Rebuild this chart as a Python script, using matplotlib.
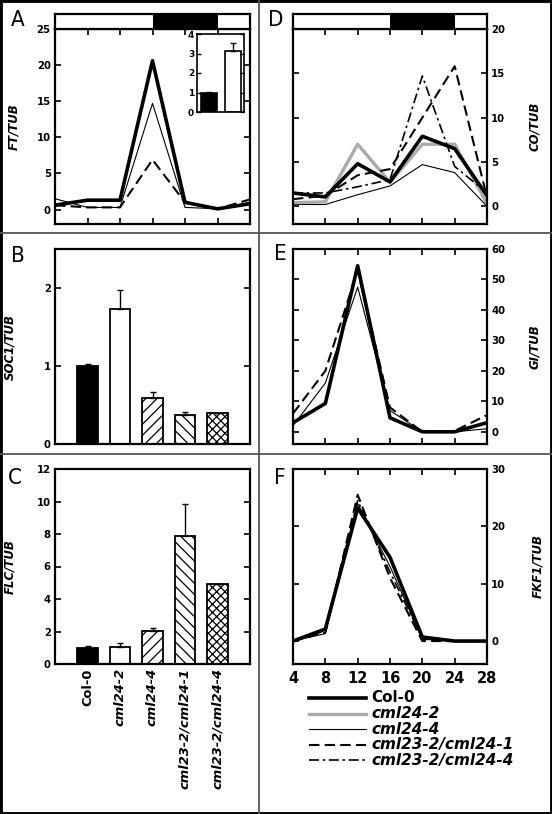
import matplotlib
matplotlib.use("Agg")
import matplotlib.pyplot as plt
from matplotlib.lines import Line2D
from matplotlib.patches import Rectangle

W, H = 552, 814

# ---- data -----------------------------------------------------------------
hours = [4, 8, 12, 16, 20, 24, 28]

ft_col0 = [0.6, 1.3, 1.3, 20.6, 1.0, 0.1, 0.8]
ft_cml24_4 = [1.5, 0.3, 0.3, 14.7, 0.3, 0.1, 1.0]
ft_dbl1 = [0.6, 0.3, 0.3, 6.9, 1.0, 0.1, 1.4]

ft_inset = [1.0, 3.13]
ft_inset_err = [0.03, 0.42]

co_col0 = [1.5, 1.05, 4.8, 2.75, 7.9, 6.5, 1.2]
co_cml24_2 = [0.4, 0.5, 7.0, 2.7, 7.0, 7.0, 0.3]
co_cml24_4 = [0.2, 0.2, 1.3, 2.3, 4.7, 3.8, 0.0]
co_dbl1 = [0.8, 1.2, 3.5, 4.2, 10.0, 15.8, 1.0]
co_dbl4 = [1.5, 1.5, 2.2, 3.0, 14.7, 4.5, 1.5]

gi_col0 = [3.0, 9.3, 54.5, 4.6, 0.0, 0.0, 3.0]
gi_cml24_4 = [2.0, 16.0, 47.5, 7.0, 0.0, 0.0, 1.0]
gi_dbl1 = [6.0, 20.0, 53.0, 8.0, 0.0, 0.3, 5.5]

fkf_col0 = [0.0, 2.1, 23.2, 14.6, 0.7, 0.0, 0.0]
fkf_cml24_4 = [0.0, 1.3, 24.0, 13.0, 0.3, 0.0, 0.0]
fkf_dbl1 = [0.0, 1.5, 25.5, 11.0, 0.0, 0.0, 0.0]
fkf_dbl4 = [0.0, 1.8, 24.5, 12.0, 0.5, 0.0, 0.0]

genotypes = ["Col-0", "cml24-2", "cml24-4", "cml23-2/cml24-1", "cml23-2/cml24-4"]
soc1 = [1.0, 1.73, 0.59, 0.37, 0.40]
soc1_err = [0.02, 0.25, 0.08, 0.04, 0.0]
flc = [1.0, 1.02, 2.05, 7.9, 4.92]
flc_err = [0.1, 0.3, 0.15, 1.95, 0.0]

light = [(4, 16, "white"), (16, 24, "black"), (24, 28, "white")]

# ---- styles ---------------------------------------------------------------
STY = {
    "Col-0": dict(color="black", lw=2.6),
    "cml24-2": dict(color="#aaaaaa", lw=2.4),
    "cml24-4": dict(color="black", lw=0.8),
    "cml23-2/cml24-1": dict(color="black", lw=1.5, dashes=(5, 2.5)),
    "cml23-2/cml24-4": dict(color="black", lw=1.2, dashes=(6, 2.2, 1.5, 2.2)),
}
bar_face = ["black", "white", "white", "white", "white"]
bar_hatch = [None, None, "///", "\\\\\\", "xxxx"]

plt.rcParams["font.family"] = "DejaVu Sans"
plt.rcParams["font.weight"] = "bold"
plt.rcParams["hatch.linewidth"] = 0.9

fig = plt.figure(figsize=(W / 100, H / 100), dpi=100)


def fr(x0, y0, x1, y1):
    return [x0 / W, 1 - y1 / H, (x1 - x0) / W, (y1 - y0) / H]


def style(ax, right=False, xlabels=False):
    for s in ax.spines.values():
        s.set_linewidth(1.6)
    ax.tick_params(direction="in", length=4, width=1.2, top=True, right=True,
                   left=True, bottom=True, labelsize=7.3,
                   labelleft=not right, labelright=right,
                   labelbottom=xlabels, pad=3)


def lightbar(rect):
    b = fig.add_axes(rect)
    for a, z, c in light:
        b.barh(0.5, z - a, left=a, height=1, color=c, edgecolor="none")
    b.set_xlim(4, 28)
    b.set_ylim(0, 1)
    b.set_xticks([])
    b.set_yticks([])
    for s in b.spines.values():
        s.set_linewidth(1.6)


def ylab(ax, text, right=False):
    ax.set_ylabel(text, fontsize=8.5, fontstyle="italic", fontweight="bold")
    if right:
        ax.yaxis.set_label_position("right")


# ---- A ------------------------------------------------------------------
axA = fig.add_axes(fr(55, 29, 250, 224))
axA.plot(hours, ft_cml24_4, **STY["cml24-4"])
axA.plot(hours, ft_dbl1, **STY["cml23-2/cml24-1"])
axA.plot(hours, ft_col0, **STY["Col-0"])
axA.set_xlim(4, 28)
axA.set_ylim(-2, 25)
axA.set_xticks(hours)
axA.set_yticks(range(0, 26, 5))
style(axA)
ylab(axA, "FT/TUB")
axA.yaxis.set_label_coords(-0.18, 0.5)
lightbar(fr(55, 14, 250, 29))

ins = fig.add_axes(fr(197, 34, 244, 112))
ins.bar([1, 2], ft_inset, width=0.66, color=["black", "white"],
        edgecolor="black", lw=1.2)
ins.errorbar([1, 2], ft_inset, yerr=[[0, 0], ft_inset_err], fmt="none",
             ecolor="black", elinewidth=1, capsize=2)
ins.set_xlim(0.5, 2.46)
ins.set_ylim(0, 4)
ins.set_xticks([])
ins.set_yticks(range(5))
for s in ins.spines.values():
    s.set_linewidth(1.2)
ins.tick_params(direction="in", length=3, width=1, right=True, labelsize=6.5, pad=2)

# ---- D ------------------------------------------------------------------
axD = fig.add_axes(fr(293, 29, 487, 224))
axD.plot(hours, co_cml24_4, **STY["cml24-4"])
axD.plot(hours, co_cml24_2, **STY["cml24-2"])
axD.plot(hours, co_dbl1, **STY["cml23-2/cml24-1"])
axD.plot(hours, co_dbl4, **STY["cml23-2/cml24-4"])
axD.plot(hours, co_col0, **STY["Col-0"])
axD.set_xlim(4, 28)
axD.set_ylim(-2, 20)
axD.set_xticks(hours)
axD.set_yticks(range(0, 21, 5))
style(axD, right=True)
ylab(axD, "CO/TUB", right=True)
axD.yaxis.set_label_coords(1.21, 0.5)
lightbar(fr(293, 14, 487, 29))

# ---- B / C bars ---------------------------------------------------------
pos = list(range(1, len(genotypes) + 1))


def bars(ax, vals, errs):
    for p, v, fc, h in zip(pos, vals, bar_face, bar_hatch):
        ax.bar(p, v, width=0.62, color=fc, edgecolor="black", lw=1.3, hatch=h)
    ax.errorbar(pos, vals, yerr=[[0] * len(vals), errs], fmt="none",
                ecolor="black", elinewidth=1, capsize=2.5)
    ax.set_xlim(0, 6)


axB = fig.add_axes(fr(55, 249, 250, 444))
bars(axB, soc1, soc1_err)
axB.set_ylim(0, 2.5)
axB.set_yticks([0, 1, 2])
style(axB)
axB.tick_params(top=False, bottom=False)
axB.set_xticks([])
ylab(axB, "SOC1/TUB")
axB.yaxis.set_label_coords(-0.2, 0.5)

axC = fig.add_axes(fr(55, 469, 250, 664))
bars(axC, flc, flc_err)
axC.set_ylim(0, 12)
axC.set_yticks(range(0, 13, 2))
style(axC, xlabels=True)
axC.tick_params(top=False, bottom=False)
axC.set_xticks(pos)
axC.set_xticklabels(genotypes, rotation=90, fontsize=9.4, fontweight="bold")
for t in axC.get_xticklabels()[1:]:
    t.set_fontstyle("italic")
ylab(axC, "FLC/TUB")
axC.yaxis.set_label_coords(-0.2, 0.5)

# ---- E ------------------------------------------------------------------
axE = fig.add_axes(fr(293, 249, 487, 444))
axE.plot(hours, gi_cml24_4, **STY["cml24-4"])
axE.plot(hours, gi_dbl1, **STY["cml23-2/cml24-1"])
axE.plot(hours, gi_col0, **STY["Col-0"])
axE.set_xlim(4, 28)
axE.set_ylim(-4, 60)
axE.set_xticks(hours)
axE.set_yticks(range(0, 61, 10))
style(axE, right=True)
ylab(axE, "GI/TUB", right=True)
axE.yaxis.set_label_coords(1.21, 0.5)

# ---- F ------------------------------------------------------------------
axF = fig.add_axes(fr(293, 469, 487, 664))
axF.plot(hours, fkf_cml24_4, **STY["cml24-4"])
axF.plot(hours, fkf_dbl1, **STY["cml23-2/cml24-1"])
axF.plot(hours, fkf_dbl4, **STY["cml23-2/cml24-4"])
axF.plot(hours, fkf_col0, **STY["Col-0"])
axF.set_xlim(4, 28)
axF.set_ylim(-4, 30)
axF.set_xticks(hours)
axF.set_yticks(range(0, 31, 10))
style(axF, right=True, xlabels=True)
axF.tick_params(axis="x", labelsize=10.5, pad=5)
ylab(axF, "FKF1/TUB", right=True)
axF.yaxis.set_label_coords(1.23, 0.5)

# ---- legend (drawn by hand under F) -------------------------------------
for i, g in enumerate(genotypes):
    y = 1 - (698 + 15.5 * i) / H
    fig.add_artist(Line2D([309 / W, 366 / W], [y, y], transform=fig.transFigure,
                          **STY[g]))
    fig.text(371 / W, y, g, fontsize=11, fontweight="bold", va="center",
             fontstyle="normal" if g == "Col-0" else "italic")

# ---- panel letters, dividers, frame -------------------------------------
letters = {"A": (11, 20), "B": (11, 256), "C": (8, 478),
           "D": (268, 20), "E": (274, 254), "F": (274, 478)}
for k, (lx, ly) in letters.items():
    fig.text(lx / W, 1 - ly / H, k, fontsize=16, fontweight="normal",
             family=["DejaVu Sans Condensed", "DejaVu Sans"],
             fontstretch="condensed", va="center", ha="left")

fig.add_artist(Line2D([259 / W, 259 / W], [0, 1], transform=fig.transFigure,
                      color="#555555", lw=1.3))
for yy in (233, 454):
    fig.add_artist(Line2D([0, 1], [1 - yy / H, 1 - yy / H],
                          transform=fig.transFigure, color="#555555", lw=1.3))
fig.add_artist(Rectangle((0, 0), 1, 1, transform=fig.transFigure, fill=False,
                         ec="black", lw=3.5))

fig.savefig("out.png", dpi=100)
